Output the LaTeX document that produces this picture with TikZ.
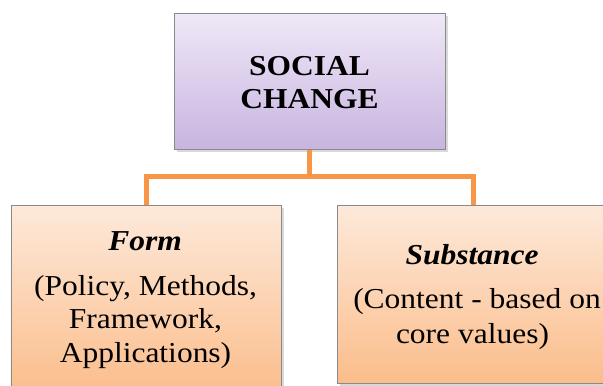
\documentclass[tikz,border=0pt]{standalone}
\usepackage{fontspec}
\setmainfont{Liberation Serif}
\usetikzlibrary{shadows}
\definecolor{purpletop}{HTML}{EFE8F7}
\definecolor{purplebot}{HTML}{C8B4E0}
\definecolor{orangetop}{HTML}{FDE9DA}
\definecolor{orangebot}{HTML}{FBBD8B}
\definecolor{boxborder}{HTML}{8A8A8A}
\definecolor{connorange}{HTML}{F79646}
\newcommand\widetext[1]{\scalebox{1.09}[1]{#1}}
\tikzset{
  boxbase/.style={rectangle, draw=boxborder, line width=0.9bp, inner sep=0pt,
    drop shadow={shadow xshift=2.5bp, shadow yshift=-2.5bp, opacity=0.3}},
  purplebox/.style={boxbase, top color=purpletop, bottom color=purplebot},
  orangebox/.style={boxbase, top color=orangetop, bottom color=orangebot},
  conn/.style={draw=connorange, line width=5bp, line join=miter},
  txt/.style={anchor=base, inner sep=0pt, font=\fontsize{29}{33.5}\selectfont}
}
\begin{document}
\begin{tikzpicture}[x=1bp, y=-1bp]
\useasboundingbox (0,0) rectangle (603,385);
\coordinate (junction) at (309.5,176.5);
% connectors
\node[purplebox, minimum width=271bp, minimum height=136bp] (top) at (309.5,81.5) {};
\node[orangebox, minimum width=270bp, minimum height=190bp] (left) at (146,300) {};
\node[orangebox, minimum width=272bp, minimum height=178bp] (right) at (473,294) {};
\draw[conn] (left.north) |- (junction) -| (right.north);
\draw[conn] (top.south) -- (junction);
% texts
\node[txt] (t1) at (309.5,75) {\widetext{\bfseries SOCIAL}};
\node[txt] (t2) at (309.5,108) {\widetext{\bfseries CHANGE}};
\node[txt] (l1) at (145,250) {\widetext{\bfseries\itshape Form}};
\node[txt] (l2) at (145.5,295) {\widetext{(Policy, Methods,}};
\node[txt] (l3) at (145.5,328) {\widetext{Framework,}};
\node[txt] (l4) at (145.5,362) {\widetext{Applications)}};
\node[txt] (r1) at (472,264) {\widetext{\bfseries\itshape Substance}};
\node[txt] (r2) at (477,308) {\widetext{(Content - based on}};
\node[txt] (r3) at (472.5,343) {\widetext{core values)}};
\end{tikzpicture}
\end{document}
